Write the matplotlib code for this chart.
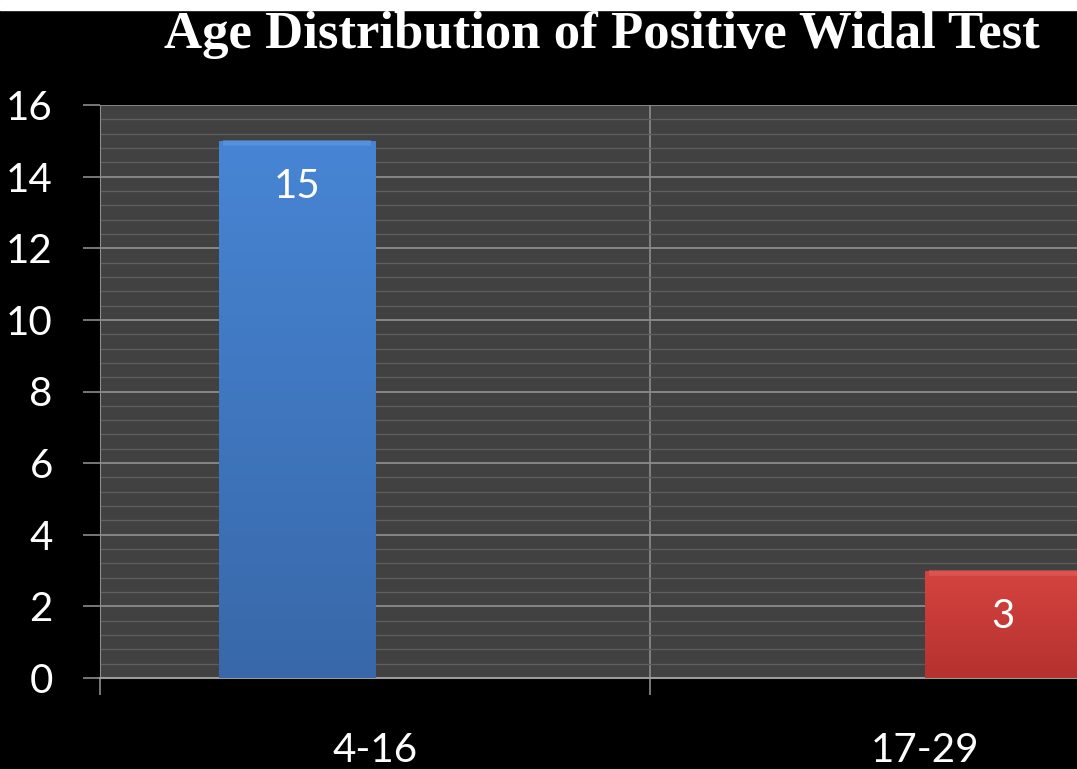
import matplotlib.pyplot as plt
import matplotlib.colors as mcolors
import numpy as np
from matplotlib.patches import Rectangle

# age groups and number of positive Widal tests per group
grupos = ["4-16", "17-29"]
serie_azul = [15, 0]
serie_vermelha = [0, 3]
rotulos_y = [0, 2, 4, 6, 8, 10, 12, 14, 16]
titulo = "Age Distribution of Positive Widal Test"

W, H = 1077, 769
fig = plt.figure(figsize=(W / 100, H / 100), dpi=100, facecolor="black")

# white strip on top of the slide
fig.patches.append(Rectangle((0, 1 - 10 / H), 1, 10 / H, transform=fig.transFigure,
                             color="white", zorder=0))

# axes runs past the right edge, the second category is cut off
ax = fig.add_axes([100 / W, 91 / H, 1100 / W, 573 / H])
ax.set_facecolor("#414141")

x = np.arange(len(grupos))
largura = 0.284


def barra_gradiente(barras, topo, base, borda):
    # paints a vertical gradient inside each bar, with a light rim on top
    cmap = mcolors.LinearSegmentedColormap.from_list("g", [base, topo])
    for b in barras:
        if b.get_height() <= 0:
            continue
        x0, y0 = b.get_x(), b.get_y()
        x1, y1 = x0 + b.get_width(), y0 + b.get_height()
        grad = np.linspace(0, 1, 256).reshape(-1, 1)
        img = ax.imshow(grad, extent=(x0, x1, y0, y1), origin="lower", cmap=cmap,
                        aspect="auto", zorder=3, interpolation="bicubic")
        img.set_clip_path(b)
        ax.plot([x0 + 0.008, x1 - 0.008], [y1 - 0.06, y1 - 0.06], color=borda,
                lw=4, alpha=0.7, zorder=4, solid_capstyle="butt")


b1 = ax.bar(x - largura / 2, serie_azul, largura, color="#3F79C6", zorder=2,
            edgecolor="none")
b2 = ax.bar(x + largura / 2, serie_vermelha, largura, color="#C63B37", zorder=2,
            edgecolor="none")
barra_gradiente(b1, "#4785D4", "#3868A9", "#5C96E0")
barra_gradiente(b2, "#D5433F", "#B5322F", "#E25A55")

# value labels inside the top of each bar
for barras, valores in [(b1, serie_azul), (b2, serie_vermelha)]:
    for b, v in zip(barras, valores):
        if v > 0:
            ax.annotate(f"{v}", (b.get_x() + b.get_width() / 2, v),
                        textcoords="offset points", xytext=(0, -33),
                        ha="center", va="center", color="white",
                        fontsize=29, family="Lato", zorder=5)

ax.set_xlim(-0.5, len(grupos) - 0.5)
ax.set_ylim(0, 16)

# y axis: major lines every 2, thin lines every 0.4
ax.set_yticks(rotulos_y)
ax.set_yticks(np.arange(0, 16.01, 0.4), minor=True)
ax.grid(axis="y", which="major", color="#8c8c8c", lw=1.3, zorder=1)
ax.grid(axis="y", which="minor", color="#5e5e5e", lw=1.0, zorder=1)
ax.tick_params(axis="y", which="major", length=12, width=1.2, color="#8c8c8c",
               pad=22, labelsize=29, labelcolor="white")
ax.tick_params(axis="y", which="minor", length=0)
for t in ax.get_yticklabels():
    t.set_family("Lato")

# x axis: ticks on the category borders, names in the middle
ax.set_xticks(np.arange(-0.5, len(grupos)))
ax.set_xticklabels([])
ax.set_xticks(x, minor=True)
ax.set_xticklabels(grupos, minor=True)
ax.grid(axis="x", which="major", color="#8c8c8c", lw=1.2, zorder=1)
ax.tick_params(axis="x", which="major", length=12, width=1.2, color="#8c8c8c")
ax.tick_params(axis="x", which="minor", length=0, pad=39, labelsize=29,
               labelcolor="white")
for t in ax.get_xticklabels(minor=True):
    t.set_family("Lato")

for lado in ["top", "right"]:
    ax.spines[lado].set_visible(False)
ax.spines["left"].set_color("#8c8c8c")
ax.spines["bottom"].set_color("#9a9a9a")
ax.spines["bottom"].set_linewidth(1.5)

fig.text(602 / W, 1 - 48 / H, titulo, ha="center", va="baseline",
         color="white", fontsize=38, fontweight="bold", family="Liberation Serif")

fig.savefig("out.png", dpi=100, facecolor="black")
